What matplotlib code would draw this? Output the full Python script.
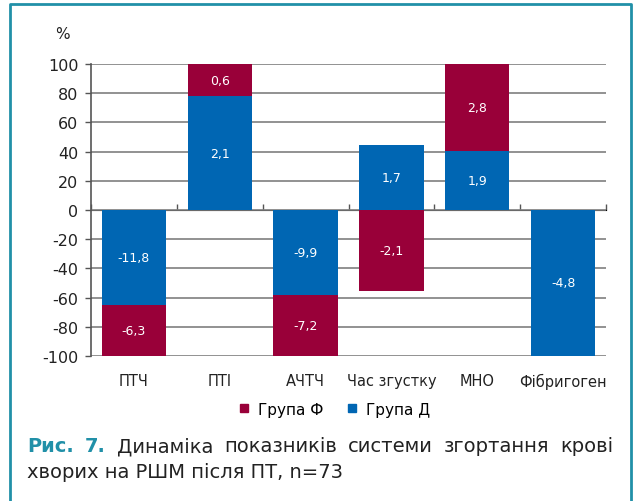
import numpy as np
import matplotlib
matplotlib.use("Agg")
import matplotlib.pyplot as plt
from matplotlib.lines import Line2D

plt.rcParams['font.family'] = ['DejaVu Sans']

categories = ['ПТЧ', 'ПТІ', 'АЧТЧ', 'Час згустку', 'МНО', 'Фібригоген']
group_d = [-11.8, 2.1, -9.9, 1.7, 1.9, -4.8]
group_f = [-6.3, 0.6, -7.2, -2.1, 2.8, 0.0]
series_names = ['Група Д', 'Група Ф']
yticks = list(range(-100, 101, 20))
caption_bold = 'Рис. 7.'
caption_line1 = 'Динаміка показників системи згортання крові'
caption_line2 = 'хворих на РШМ після ПТ, n=73'

BLUE = '#0066B3'
RED = '#990039'
TEAL = '#2190A8'
W, H = 635, 502

fig = plt.figure(figsize=(6.35, 5.02), dpi=100)
ax = fig.add_axes([91/W, 1-357/H, 515/W, 292/H])

d = np.array(group_d)
f = np.array(group_f)
tot = np.abs(d) + np.abs(f)
pd_ = d / tot * 100
pf_ = f / tot * 100
x = np.arange(len(categories))
w = 0.75

pos_base = np.zeros(len(x))
neg_base = np.zeros(len(x))
for vals, pct, col in [(d, pd_, BLUE), (f, pf_, RED)]:
    bottoms = np.where(pct >= 0, pos_base, neg_base)
    ax.bar(x, pct, w, bottom=bottoms, color=col, zorder=3)
    for i in range(len(x)):
        if vals[i] != 0:
            ax.text(x[i], bottoms[i] + pct[i]/2, f"{vals[i]:.1f}".replace('.', ','),
                    ha='center', va='center', color='white', fontsize=9, zorder=4)
    pos_base = pos_base + np.where(pct >= 0, pct, 0)
    neg_base = neg_base + np.where(pct < 0, pct, 0)

ax.set_xlim(-0.5, len(x) - 0.5)
ax.set_ylim(-100, 100)
ax.set_yticks(yticks)
ax.set_yticklabels([str(t) for t in yticks], fontsize=11.5, color='#222222')
ax.tick_params(axis='y', length=4, width=1, color='#555555', pad=5)
ax.yaxis.grid(True, color='#7f7f7f', linewidth=1.2, zorder=0)
ax.set_xticks(x)
ax.set_xticklabels(categories, fontsize=10.5, color='#222222')
ax.tick_params(axis='x', length=0, pad=12)
for s in ['top', 'right', 'bottom']:
    ax.spines[s].set_visible(False)
ax.spines['left'].set_color('#555555')
ax.spines['left'].set_linewidth(1.2)

sec = ax.secondary_xaxis(0.5)
sec.set_xticks(np.arange(len(x) + 1) - 0.5)
sec.set_xticklabels([''] * (len(x) + 1))
sec.tick_params(direction='out', length=4, width=1, color='#555555')
sec.spines['bottom'].set_color('#555555')
sec.spines['bottom'].set_linewidth(1.2)

fig.text(62/W, 1-35/H, '%', fontsize=11, ha='center', va='center', color='#222222')

handles = [Line2D([], [], marker='s', linestyle='none', color=RED, markersize=6),
           Line2D([], [], marker='s', linestyle='none', color=BLUE, markersize=6)]
fig.legend(handles, [series_names[1], series_names[0]], loc='center',
           bbox_to_anchor=(335/W, 1-410/H), ncol=2, frameon=False,
           fontsize=11, handlelength=0.6, handletextpad=0.6, columnspacing=1.6)

# caption line 1, justified between x=27 and x=613
fs_cap = 14
words = [(wd, True) for wd in caption_bold.split()] + [(wd, False) for wd in caption_line1.split()]
renderer = fig.canvas.get_renderer()
texts = []
for wd, bold in words:
    t = fig.text(0, 1-447/H, wd, fontsize=fs_cap, fontweight='bold' if bold else 'normal',
                 color=TEAL if bold else '#222222', ha='left', va='center')
    texts.append(t)
widths = [t.get_window_extent(renderer).width for t in texts]
x0, x1 = 27, 613
gap = (x1 - x0 - sum(widths)) / (len(texts) - 1)
cur = x0
for t, wdt in zip(texts, widths):
    t.set_x(cur / W)
    cur += wdt + gap

fig.text(27/W, 1-473/H, caption_line2, fontsize=fs_cap,
         color='#222222', ha='left', va='center')

# frame
fig.add_artist(Line2D([10/W, 10/W, 631/W, 631/W], [0, 1-5/H, 1-5/H, 0],
                      transform=fig.transFigure, color=TEAL, linewidth=2))

fig.savefig('out.png', dpi=100)
